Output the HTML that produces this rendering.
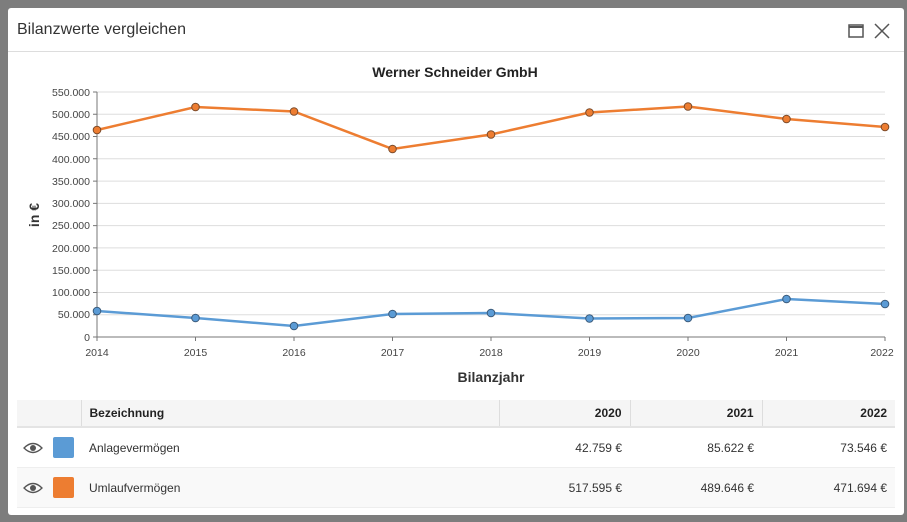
<!DOCTYPE html>
<html><head><meta charset="utf-8"><style>
body{margin:0;width:907px;height:522px;background:#7d7d7d;font-family:"Liberation Sans",sans-serif;position:relative;overflow:hidden}
.dlg{position:absolute;left:8px;top:8px;width:896px;height:507px;background:#fff;border-radius:3px}
.title{position:absolute;left:9px;top:13px;font-size:16px;color:#333}
.hr{position:absolute;left:0;top:43px;width:896px;height:1px;background:#ddd}
table{position:absolute;border-collapse:collapse;font-size:12px;color:#333;table-layout:fixed}
td,th{padding:0 8px;height:39px;border-bottom:1px solid #eee;white-space:nowrap}
th{height:26px;background:#f5f5f5;font-weight:bold;color:#222;border-bottom:2px solid #e4e4e4;border-left:1px solid #ddd}
.r{text-align:right}
.sw{position:absolute;left:36px;width:21px;height:21px;border-radius:2px}
</style></head><body>
<div class="dlg">
<div class="title">Bilanzwerte vergleichen</div>
<svg style="position:absolute;left:840px;top:15px" width="50" height="18"><rect x="1" y="2" width="14" height="12" fill="none" stroke="#555" stroke-width="1.5"/><line x1="1" y1="4" x2="15" y2="4" stroke="#555" stroke-width="2"/><path d="M27 1 L41 15 M41 1 L27 15" stroke="#555" stroke-width="1.5"/></svg>
<div class="hr"></div>
</div>
<svg style="position:absolute;left:0;top:0" width="907" height="522" font-family="Liberation Sans,sans-serif">
<text x="455" y="77" text-anchor="middle" font-size="14" font-weight="bold" fill="#222">Werner Schneider GmbH</text>
<g stroke="#ddd" stroke-width="1">
<line x1="97" x2="885" y1="92" y2="92"/><line x1="97" x2="885" y1="114.3" y2="114.3"/><line x1="97" x2="885" y1="136.5" y2="136.5"/><line x1="97" x2="885" y1="158.8" y2="158.8"/><line x1="97" x2="885" y1="181.1" y2="181.1"/><line x1="97" x2="885" y1="203.4" y2="203.4"/><line x1="97" x2="885" y1="225.6" y2="225.6"/><line x1="97" x2="885" y1="247.9" y2="247.9"/><line x1="97" x2="885" y1="270.2" y2="270.2"/><line x1="97" x2="885" y1="292.5" y2="292.5"/><line x1="97" x2="885" y1="314.7" y2="314.7"/>
</g>
<g stroke="#777"><line x1="97" x2="97" y1="92" y2="341"/><line x1="93" x2="885" y1="337" y2="337"/>
<path d="M93 92h4M93 114.3h4M93 136.5h4M93 158.8h4M93 181.1h4M93 203.4h4M93 225.6h4M93 247.9h4M93 270.2h4M93 292.5h4M93 314.7h4M195.5 337v4M294 337v4M392.5 337v4M491 337v4M589.5 337v4M688 337v4M786.5 337v4M885 337v4"/></g>
<g font-size="10.5" fill="#444" text-anchor="end">
<text x="90" y="96">550.000</text><text x="90" y="118">500.000</text><text x="90" y="140">450.000</text><text x="90" y="163">400.000</text><text x="90" y="185">350.000</text><text x="90" y="207">300.000</text><text x="90" y="229">250.000</text><text x="90" y="252">200.000</text><text x="90" y="274">150.000</text><text x="90" y="296">100.000</text><text x="90" y="318">50.000</text><text x="90" y="341">0</text>
</g>
<g font-size="10.5" fill="#444" text-anchor="middle">
<text x="97" y="356">2014</text><text x="195.5" y="356">2015</text><text x="294" y="356">2016</text><text x="392.5" y="356">2017</text><text x="491" y="356">2018</text><text x="589.5" y="356">2019</text><text x="688" y="356">2020</text><text x="786.5" y="356">2021</text><text x="882" y="356">2022</text>
</g>
<text x="491" y="382" text-anchor="middle" font-size="14" font-weight="bold" fill="#333">Bilanzjahr</text>
<text transform="translate(39,215) rotate(-90)" text-anchor="middle" font-size="14" font-weight="bold" fill="#333">in €</text>
<polyline fill="none" stroke="#ed7d31" stroke-width="2.5" points="97,130 195.5,107 294,111.5 392.5,149 491,134.5 589.5,112.5 688,106.5 786.5,119 885,127"/>
<g fill="#ed7d31" stroke="#7a4a2a" stroke-width="1"><circle cx="97" cy="130" r="3.8"/><circle cx="195.5" cy="107" r="3.8"/><circle cx="294" cy="111.5" r="3.8"/><circle cx="392.5" cy="149" r="3.8"/><circle cx="491" cy="134.5" r="3.8"/><circle cx="589.5" cy="112.5" r="3.8"/><circle cx="688" cy="106.5" r="3.8"/><circle cx="786.5" cy="119" r="3.8"/><circle cx="885" cy="127" r="3.8"/></g>
<polyline fill="none" stroke="#5b9bd5" stroke-width="2.5" points="97,311 195.5,318 294,326 392.5,314 491,313 589.5,318.5 688,318 786.5,299 885,304"/>
<g fill="#5b9bd5" stroke="#3a5a7a" stroke-width="1"><circle cx="97" cy="311" r="3.8"/><circle cx="195.5" cy="318" r="3.8"/><circle cx="294" cy="326" r="3.8"/><circle cx="392.5" cy="314" r="3.8"/><circle cx="491" cy="313" r="3.8"/><circle cx="589.5" cy="318.5" r="3.8"/><circle cx="688" cy="318" r="3.8"/><circle cx="786.5" cy="299" r="3.8"/><circle cx="885" cy="304" r="3.8"/></g>
</svg>
<table style="left:17px;top:400px;width:878px">
<colgroup><col style="width:64px"><col style="width:418px"><col style="width:131px"><col style="width:132px"><col></colgroup>
<tr><th style="border-left:none"></th><th style="text-align:left">Bezeichnung</th><th class="r">2020</th><th class="r">2021</th><th class="r">2022</th></tr>
<tr><td style="position:relative"><svg width="20" height="12" style="position:absolute;left:6px;top:14px"><path d="M1 6 Q10 -3 19 6 Q10 15 1 6Z" fill="none" stroke="#555" stroke-width="1.3"/><circle cx="10" cy="6" r="3" fill="#555"/></svg><span class="sw" style="background:#5b9bd5;top:9px"></span></td><td>Anlagevermögen</td><td class="r">42.759 €</td><td class="r">85.622 €</td><td class="r">73.546 €</td></tr>
<tr style="background:#f9f9f9"><td style="position:relative"><svg width="20" height="12" style="position:absolute;left:6px;top:14px"><path d="M1 6 Q10 -3 19 6 Q10 15 1 6Z" fill="none" stroke="#555" stroke-width="1.3"/><circle cx="10" cy="6" r="3" fill="#555"/></svg><span class="sw" style="background:#ed7d31;top:9px"></span></td><td>Umlaufvermögen</td><td class="r">517.595 €</td><td class="r">489.646 €</td><td class="r">471.694 €</td></tr>
</table>
</body></html>
